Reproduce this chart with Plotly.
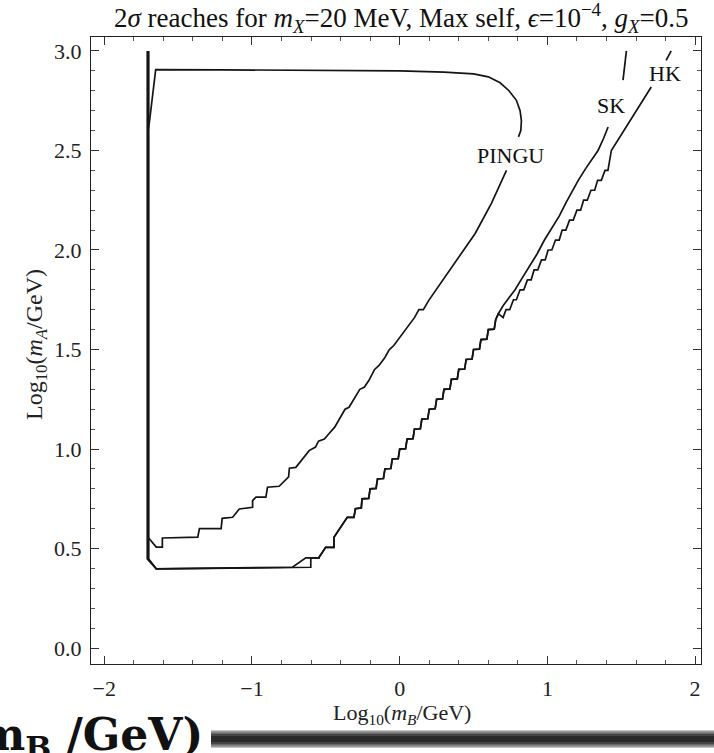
import plotly.graph_objects as go

# ---------------- data ----------------
pingu_x = [-1.704, -1.704, -1.693, -1.652, -1.2, -0.6, 0.0, 0.3, 0.5, 0.6, 0.68, 0.74, 0.79, 0.815, 0.824, 0.82, 0.804,
           None,
           0.723, 0.621, 0.511, 0.399, 0.309, 0.197, 0.16, 0.13, 0.10, 0.06, 0.04, 0.0, -0.04, -0.07, -0.10, -0.14,
           -0.17, -0.209, -0.24, -0.27, -0.30, -0.343, -0.37, -0.40, -0.44, -0.478, -0.51, -0.55, -0.57, -0.613,
           -0.66, -0.703, -0.747, -0.752, -0.816, -0.85, -0.895, -0.906, -0.973, -0.996, -0.996, -1.086, -1.131,
           -1.202, -1.209, -1.356, -1.367, -1.607, -1.607, -1.648, -1.704]
pingu_y = [0.557, 2.60, 2.652, 2.906, 2.905, 2.903, 2.90, 2.894, 2.885, 2.87, 2.84, 2.80, 2.752, 2.70, 2.65, 2.60, 2.568,
           None,
           2.40, 2.234, 2.083, 1.964, 1.864, 1.747, 1.70, 1.70, 1.66, 1.62, 1.60, 1.56, 1.52, 1.50, 1.46, 1.42,
           1.40, 1.344, 1.31, 1.30, 1.26, 1.21, 1.20, 1.16, 1.11, 1.078, 1.05, 1.04, 1.01, 0.992,
           0.95, 0.908, 0.904, 0.86, 0.813, 0.81, 0.808, 0.758, 0.758, 0.741, 0.707, 0.699, 0.657,
           0.652, 0.60, 0.60, 0.557, 0.553, 0.507, 0.507, 0.557]

# lower part of SK and HK (they nearly coincide)
sk_base_x = [-1.699, -1.699, -1.648, -1.2, -0.726]
hk_base_x = [-1.709, -1.709, -1.648, -1.2, -0.726]
base_y = [3.0, 0.448, 0.398, 0.401, 0.406]

sk_low_x = [-0.636, -0.546]
sk_low_y = [0.453, 0.453]
hk_low_x = [-0.602, -0.602, -0.546]
hk_low_y = [0.406, 0.453, 0.453]

stair_x = [-0.546, -0.501, -0.445, -0.445, -0.355, -0.31, -0.30, -0.26, -0.255, -0.21, -0.20, -0.16, -0.15, -0.11,
           -0.10, -0.06, -0.05, -0.01, 0.0, 0.04, 0.05, 0.09, 0.10, 0.14, 0.15, 0.19, 0.20, 0.24, 0.25, 0.29, 0.30,
           0.34, 0.35, 0.39, 0.40, 0.44, 0.45, 0.49, 0.50, 0.54, 0.55, 0.59, 0.60, 0.64, 0.65, 0.668]
stair_y = [0.456, 0.506, 0.506, 0.557, 0.657, 0.657, 0.70, 0.704, 0.75, 0.752, 0.80, 0.802, 0.85, 0.852,
           0.90, 0.902, 0.95, 0.952, 1.0, 1.002, 1.05, 1.052, 1.10, 1.102, 1.15, 1.152, 1.20, 1.202, 1.25, 1.252, 1.30,
           1.302, 1.35, 1.352, 1.40, 1.402, 1.45, 1.452, 1.50, 1.502, 1.55, 1.552, 1.60, 1.602, 1.65, 1.68]

sk_up_x = [0.70, 0.74, 0.781, 0.83, 0.88, 0.93, 0.98, 1.03, 1.08, 1.128, 1.17, 1.209, 1.26, 1.30, 1.343, 1.38, 1.411,
           None, 1.512, 1.525, 1.535]
sk_up_y = [1.72, 1.76, 1.80, 1.86, 1.92, 1.98, 2.05, 2.11, 2.17, 2.24, 2.30, 2.35, 2.41, 2.455, 2.50, 2.56, 2.618,
           None, 2.853, 2.93, 3.0]

hk_up_x = [0.70, 0.72, 0.745, 0.77, 0.79, 0.815, 0.84, 0.865, 0.89, 0.91, 0.935, 0.96, 0.985, 1.005, 1.03, 1.055,
           1.08, 1.10, 1.125, 1.15, 1.175, 1.20, 1.225, 1.245, 1.27, 1.295, 1.32, 1.34, 1.365, 1.39, 1.41, 1.433,
           1.475, 1.517, 1.56, 1.60, 1.645, 1.687, 1.703, None, 1.804, 1.838]
hk_up_y = [1.66, 1.70, 1.70, 1.75, 1.75, 1.80, 1.80, 1.85, 1.85, 1.90, 1.90, 1.95, 1.95, 2.00, 2.00, 2.05,
           2.05, 2.10, 2.10, 2.15, 2.15, 2.20, 2.20, 2.25, 2.25, 2.30, 2.30, 2.35, 2.35, 2.40, 2.40, 2.50,
           2.55, 2.60, 2.65, 2.70, 2.75, 2.80, 2.819, None, 2.953, 3.0]

labels = ["PINGU", "SK", "HK"]
label_x = [0.753, 1.433, 1.795]
label_y = [2.474, 2.727, 2.886]

x_ticks = [-2, -1, 0, 1, 2]
y_ticks = [0.0, 0.5, 1.0, 1.5, 2.0, 2.5, 3.0]

# ---------------- figure ----------------
W, H = 714, 753
ML, MR, MT, MB = 91, 13, 37, 89
PW, PH = W - ML - MR, H - MT - MB


def px(xp):
    return (xp - ML) / PW


def py(yp):
    return (H - MB - yp) / PH


FONT = "Liberation Serif"
LINE = dict(color="#141414", width=1.7)

fig = go.Figure()
fig.add_trace(go.Scatter(x=pingu_x, y=pingu_y, mode="lines", line=LINE, hoverinfo="skip"))
fig.add_trace(go.Scatter(x=sk_base_x + sk_low_x + stair_x + sk_up_x, y=base_y + sk_low_y + stair_y + sk_up_y,
                         mode="lines", line=LINE, hoverinfo="skip"))
fig.add_trace(go.Scatter(x=hk_base_x + hk_low_x + stair_x + hk_up_x, y=base_y + hk_low_y + stair_y + hk_up_y,
                         mode="lines", line=LINE, hoverinfo="skip"))

for t, lx, ly in zip(labels, label_x, label_y):
    fig.add_annotation(x=lx, y=ly, text=t, showarrow=False, font=dict(family=FONT, size=22, color="#111"))

axis_common = dict(
    showgrid=False, zeroline=False, showline=True, linecolor="#222", linewidth=1.2, mirror="ticks",
    ticks="inside", ticklen=8, tickwidth=1, tickcolor="#333",
    tickfont=dict(family=FONT, size=22, color="#222"),
)
fig.update_xaxes(range=[-2.09, 2.04], tickvals=x_ticks, ticktext=[("−" + str(-v)) if v < 0 else str(v) for v in x_ticks],
                 minor=dict(ticks="inside", ticklen=4, tickcolor="#555", dtick=0.2, tick0=0),
                 ticklabelstandoff=4, **axis_common)
fig.update_yaxes(range=[-0.08, 3.07], tickvals=y_ticks, ticktext=["%.1f" % v for v in y_ticks],
                 minor=dict(ticks="inside", ticklen=4, tickcolor="#555", dtick=0.1, tick0=0),
                 ticklabelstandoff=4, **axis_common)

# title
fig.add_annotation(xref="paper", yref="paper", x=px(401), y=py(18), xanchor="center", yanchor="middle",
                   text="2<i>σ</i> reaches for <i>m</i><sub><i>X</i></sub>=20 MeV, Max self, <i>ϵ</i>=10<sup>−4</sup>, <i>g</i><sub><i>X</i></sub>=0.5",
                   showarrow=False, font=dict(family=FONT, size=27, color="#111"))
# axis titles
fig.add_annotation(xref="paper", yref="paper", x=px(402), y=py(714), xanchor="center", yanchor="middle",
                   text="Log<sub>10</sub>(<i>m</i><sub><i>B</i></sub>/GeV)", showarrow=False,
                   font=dict(family=FONT, size=22, color="#222"))
fig.add_annotation(xref="paper", yref="paper", x=px(36), y=py(345), xanchor="center", yanchor="middle",
                   text="Log<sub>10</sub>(<i>m</i><sub><i>A</i></sub>/GeV)", showarrow=False, textangle=-90,
                   font=dict(family=FONT, size=24, color="#222"))

# large bold caption fragment at the bottom-left (cut off by the page edge)
fig.add_annotation(xref="paper", yref="paper", x=px(205), y=py(737), xanchor="right", yanchor="middle",
                   text="<b>Log<sub>10</sub>(m<sub>B</sub> /GeV)</b>", showarrow=False,
                   font=dict(family="DejaVu Serif", size=44, color="#111"))
# grey bar with a soft gradient
for (y0, y1, col) in [(730, 748, "#c4c4c4"), (731, 747, "#9a9a9a"), (732.5, 745.5, "#6a6a6a"),
                      (734, 744, "#454545"), (736, 742, "#2a2a2a")]:
    fig.add_shape(type="rect", xref="paper", yref="paper", x0=px(211), x1=px(714), y0=py(y1), y1=py(y0),
                  fillcolor=col, line=dict(width=0), layer="above")

fig.update_layout(width=W, height=H, margin=dict(l=ML, r=MR, t=MT, b=MB, autoexpand=False),
                  paper_bgcolor="white", plot_bgcolor="white", showlegend=False)

fig.write_html("out.html")
